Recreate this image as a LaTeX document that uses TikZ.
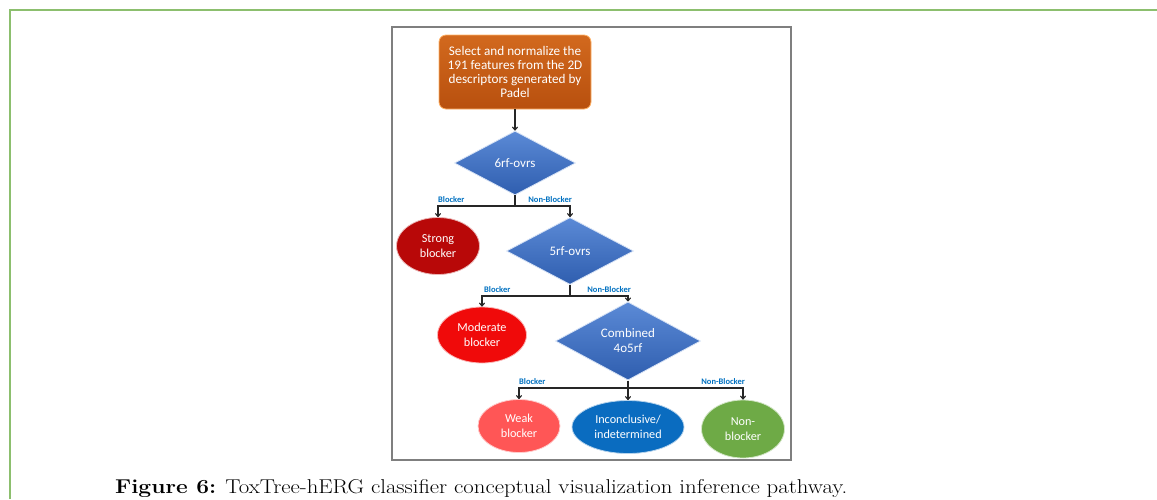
\documentclass[tikz,border=0pt]{standalone}
\usepackage{fontspec}
\newfontfamily\calfont{Carlito}
\usetikzlibrary{shapes.geometric,arrows.meta}
\definecolor{framegreen}{HTML}{8CBF6E}
\definecolor{boxgray}{HTML}{7F7F7F}
\definecolor{orangetop}{HTML}{D2691E}
\definecolor{orangebot}{HTML}{B8500E}
\definecolor{diamtop}{HTML}{5B8AD6}
\definecolor{diambot}{HTML}{2F5EAF}
\definecolor{strongred}{HTML}{B80808}
\definecolor{modred}{HTML}{F00A0A}
\definecolor{weakred}{HTML}{FF5656}
\definecolor{incblue}{HTML}{0A6CC0}
\definecolor{nbgreen}{HTML}{6EAA46}
\definecolor{lblblue}{HTML}{0070C0}
\definecolor{connc}{HTML}{262626}
\tikzset{
  procbox/.style={rectangle, rounded corners=7pt, minimum width=152pt, minimum height=74pt,
    top color=orangetop, bottom color=orangebot, draw=orange!60!white, line width=0.8pt,
    text=white, font=\calfont\fontsize{13.2}{14.2}\selectfont, align=center, inner sep=0pt},
  decbox/.style={diamond, inner sep=0pt, top color=diamtop, bottom color=diambot,
    draw=white!75!diamtop, line width=0.8pt, text=white,
    font=\calfont\fontsize{13}{15}\selectfont, align=center},
  endbox/.style={ellipse, inner sep=0pt, draw=white!70!#1, line width=0.8pt, fill=#1,
    text=white, font=\calfont\fontsize{12.2}{14.5}\selectfont, align=center},
  conn/.style={draw=connc, line width=1.1pt},
  connarr/.style={conn, -{To[length=4pt,width=6pt]}},
  lbl/.style={text=lblblue, font=\calfont\bfseries\fontsize{8.5}{10}\selectfont, inner sep=0pt},
}
\begin{document}
\begin{tikzpicture}[x=1pt,y=-1pt]
\useasboundingbox (0,0) rectangle (1157,499);
% outer green frame
\draw[framegreen, line width=2pt] (10,499) -- (10,10) -- (1157,10);
% figure box
\draw[boxgray, line width=1.2pt] (392,27) rectangle (791,460);

\node[procbox] (start) at (515,72) {Select and normalize the\\191 features from the 2D\\descriptors generated by\\Padel};
\node[decbox, minimum width=121pt, minimum height=64pt] (d1) at (515,163) {6rf-ovrs};
\node[decbox, minimum width=127pt, minimum height=67pt] (d2) at (570,251) {5rf-ovrs};
\node[decbox, minimum width=145pt, minimum height=67pt] (d3) at (628,341) {Combined\\4o5rf};

\node[endbox=strongred, minimum width=83pt, minimum height=57pt] (sb) at (438,246) {Strong\\blocker};
\node[endbox=modred, minimum width=89pt, minimum height=56pt] (mb) at (482,335) {Moderate\\blocker};
\node[endbox=weakred, minimum width=82pt, minimum height=53pt] (wb) at (519,426) {Weak\\blocker};
\node[endbox=incblue, minimum width=112pt, minimum height=53pt] (inc) at (628,427) {Inconclusive/\\indetermined};
\node[endbox=nbgreen, minimum width=83pt, minimum height=58pt] (nb) at (743,429) {Non-\\blocker};

\draw[connarr] (start.south) -- (d1.north);

\coordinate (j1) at (515,206);
\draw[conn] (d1.south) -- (j1);
\draw[connarr] (j1) -| (sb.north);
\draw[connarr] (j1) -| (d2.north);

\coordinate (j2) at (570,296);
\draw[conn] (d2.south) -- (j2);
\draw[connarr] (j2) -| (mb.north);
\draw[connarr] (j2) -| (d3.north);

\coordinate (j3) at (628,388);
\draw[conn] (d3.south) -- (j3);
\draw[connarr] (j3) -| (wb.north);
\draw[connarr] (j3) -- (inc.north);
\draw[connarr] (j3) -| (nb.north);

\node[lbl, anchor=base west] (l1a) at (438,202) {Blocker};
\node[lbl, anchor=base east] (l1b) at (572,202) {Non-Blocker};
\node[lbl, anchor=base west] (l2a) at (484,292) {Blocker};
\node[lbl, anchor=base east] (l2b) at (631,292) {Non-Blocker};
\node[lbl, anchor=base west] (l3a) at (519,384) {Blocker};
\node[lbl, anchor=base east] (l3b) at (745,384) {Non-Blocker};

\node[anchor=base west, inner sep=0pt, font=\fontsize{20}{22}\selectfont] (cap) at (115,493)
  {\scalebox{1.14}[1]{\textbf{Figure 6:} ToxTree-hERG classifier conceptual visualization inference pathway.}};
\end{tikzpicture}
\end{document}
